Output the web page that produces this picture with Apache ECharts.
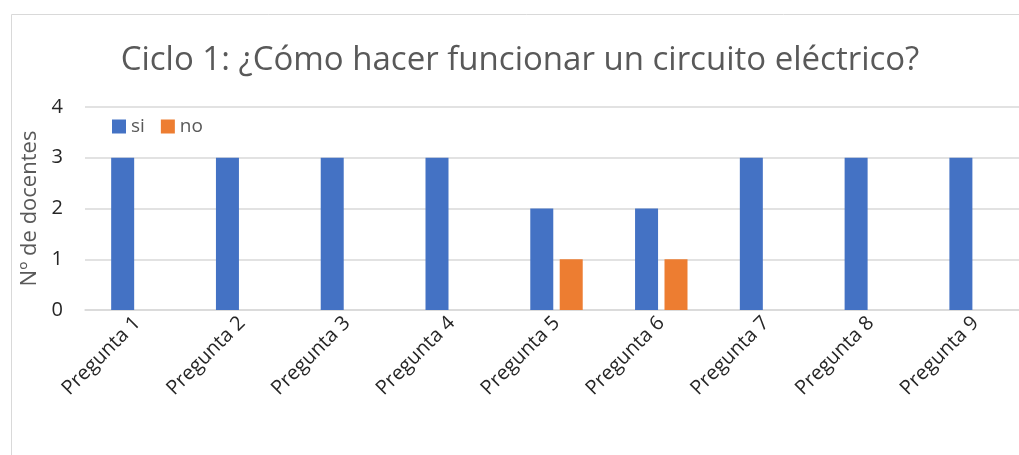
<!DOCTYPE html>
<html>
<head>
<meta charset="utf-8">
<script src="https://cdn.jsdelivr.net/npm/echarts@6/dist/echarts.min.js"></script>
<style>
  html, body { margin: 0; padding: 0; background: #fff; overflow: hidden; }
  #main { width: 1040px; height: 455px; }
</style>
</head>
<body>
<div id="main"></div>
<script>
const preguntas = ['Pregunta 1', 'Pregunta 2', 'Pregunta 3', 'Pregunta 4', 'Pregunta 5',
  'Pregunta 6', 'Pregunta 7', 'Pregunta 8', 'Pregunta 9'];
const si = [3, 3, 3, 3, 2, 2, 3, 3, 3];
const no = [0, 0, 0, 0, 1, 1, 0, 0, 0];

// the chart is wider than the window, its right side is cut off like in the picture
const chart = echarts.init(document.getElementById('main'));
const font = 'Open Sans';

chart.setOption({
  animation: false,
  title: {
    text: 'Ciclo 1: ¿Cómo hacer funcionar un circuito eléctrico?',
    left: 'center',
    top: 39,
    textStyle: { fontFamily: font, fontSize: 33, fontWeight: 'normal', color: '#595959' }
  },
  graphic: [{
    type: 'rect',
    left: 9, top: 12,
    shape: { width: 1100, height: 500 },
    style: { fill: 'none', stroke: '#d9d9d9', lineWidth: 1 },
    z: -1
  }],
  legend: {
    data: ['si', 'no'],
    left: 107, top: 112,
    itemWidth: 14, itemHeight: 14, itemGap: 16,
    icon: 'rect',
    textStyle: { fontFamily: font, fontSize: 19, color: '#595959' }
  },
  grid: { left: 85, right: 12, top: 107, bottom: 145 },
  xAxis: {
    type: 'category',
    data: preguntas,
    axisLine: { lineStyle: { color: '#d9d9d9', width: 1.5 } },
    axisTick: { show: false },
    axisLabel: { rotate: 45, margin: 10, fontFamily: font, fontSize: 20, color: '#262626' }
  },
  yAxis: {
    type: 'value',
    min: 0, max: 4, interval: 1,
    name: 'Nº de docentes',
    nameLocation: 'middle',
    nameGap: 43,
    nameTextStyle: { fontFamily: font, fontSize: 22, color: '#595959' },
    axisLabel: { fontFamily: font, fontSize: 20, color: '#262626', margin: 22 },
    splitLine: { lineStyle: { color: '#d9d9d9', width: 1.5 } }
  },
  series: [
    { name: 'si', type: 'bar', data: si, barWidth: 23, barGap: '28%', itemStyle: { color: '#4472c4' } },
    { name: 'no', type: 'bar', data: no, barWidth: 23, itemStyle: { color: '#ed7d31' } }
  ]
});
</script>
</body>
</html>
